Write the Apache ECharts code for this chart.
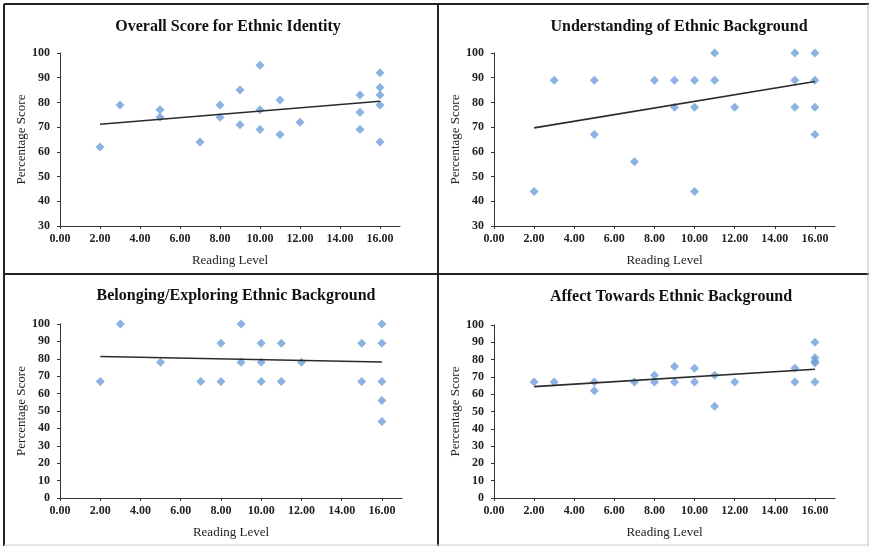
<!DOCTYPE html>
<html>
<head>
<meta charset="utf-8">
<script src="https://cdn.jsdelivr.net/npm/echarts@6/dist/echarts.min.js"></script>
<style>
html,body{margin:0;padding:0;background:#fff;}
#chart{width:869px;height:546px;}
</style>
</head>
<body>
<div id="chart"></div>
<script>
// ---- Data ----
const panelTitles = [
  'Overall Score for Ethnic Identity',
  'Understanding of Ethnic Background',
  'Belonging/Exploring Ethnic Background',
  'Affect Towards Ethnic Background'
];
const xAxisName = 'Reading Level';
const yAxisName = 'Percentage Score';
const xTickValues = [0, 2, 4, 6, 8, 10, 12, 14, 16];

const overallX = [2,3,5,5,7,8,8,9,9,10,10,10,11,11,12,15,15,15,16,16,16,16,16];
const overallY = [62,79,77,74,64,79,74,85,71,95,77,69,81,67,72,83,76,69,92,86,83,79,64];

const understandingX = [2,3,5,5,7,8,9,9,10,10,10,11,11,12,15,15,15,16,16,16,16];
const understandingY = [44,89,89,67,56,89,89,78,89,78,44,100,89,78,100,89,78,100,89,78,67];

const belongingX = [2,3,5,7,8,8,9,9,10,10,10,11,11,12,15,15,16,16,16,16,16];
const belongingY = [67,100,78,67,89,67,100,78,89,78,67,89,67,78,89,67,100,89,67,56,44];

const affectX = [2,3,5,5,7,8,8,9,9,10,10,11,11,12,15,15,16,16,16,16,16];
const affectY = [67,67,67,62,67,71,67,76,67,75,67,71,53,67,75,67,90,81,79,78,67];

// Trend line endpoints (x at 2 and 16)
const trendX = [2, 16];
const overallTrend = [71.2, 80.5];
const understandingTrend = [69.7, 88.5];
const belongingTrend = [81.3, 78.2];
const affectTrend = [64.4, 74.4];

// y-axis ranges per panel
const yMins = [30, 30, 0, 0];
const yMax = 100;

// ---- Build ----
const pairs = (xs, ys) => xs.map((x, i) => [x, ys[i]]);
const scatterSets = [
  pairs(overallX, overallY),
  pairs(understandingX, understandingY),
  pairs(belongingX, belongingY),
  pairs(affectX, affectY)
];
const trendSets = [
  pairs(trendX, overallTrend),
  pairs(trendX, understandingTrend),
  pairs(trendX, belongingTrend),
  pairs(trendX, affectTrend)
];

const FONT = '"Liberation Serif", "Times New Roman", serif';
const grids = [
  {left: 60, top: 53, width: 340, height: 173},
  {left: 494, top: 53, width: 341, height: 173},
  {left: 60, top: 324, width: 342, height: 174},
  {left: 494, top: 325, width: 341, height: 173}
];
const titlePos = [
  {left: 223, top: 14},
  {left: 674, top: 14},
  {left: 231, top: 283},
  {left: 666, top: 284}
];

const option = {
  backgroundColor: '#fff',
  animation: false,
  title: panelTitles.map((t, i) => ({
    text: t,
    left: titlePos[i].left,
    top: titlePos[i].top,
    textAlign: 'center',
    textStyle: {fontFamily: FONT, fontWeight: 'bold', fontSize: 16, color: '#111'}
  })),
  grid: grids.map(g => Object.assign({containLabel: false}, g)),
  xAxis: grids.map((g, i) => ({
    type: 'value',
    gridIndex: i,
    min: 0,
    max: 17,
    interval: 2,
    name: xAxisName,
    nameLocation: 'middle',
    nameGap: 28,
    nameTextStyle: {fontFamily: FONT, fontSize: 13, color: '#222'},
    splitLine: {show: false},
    axisLine: {show: true, onZero: false, lineStyle: {color: '#333', width: 1}},
    axisTick: {show: true, length: 3, customValues: xTickValues, lineStyle: {color: '#333'}},
    axisLabel: {
      customValues: xTickValues,
      margin: 7,
      fontFamily: FONT, fontWeight: 'bold', fontSize: 12, color: '#222',
      formatter: v => v.toFixed(2)
    }
  })),
  yAxis: grids.map((g, i) => ({
    type: 'value',
    gridIndex: i,
    min: yMins[i],
    max: yMax,
    interval: 10,
    name: yAxisName,
    nameLocation: 'middle',
    nameGap: 31,
    nameTextStyle: {fontFamily: FONT, fontSize: 13, color: '#222'},
    splitLine: {show: false},
    axisLine: {show: true, onZero: false, lineStyle: {color: '#333', width: 1}},
    axisTick: {show: true, length: 3, lineStyle: {color: '#333'}},
    axisLabel: {margin: 10, fontFamily: FONT, fontWeight: 'bold', fontSize: 12, color: '#222'}
  })),
  series: [
    ...scatterSets.map((d, i) => ({
      type: 'scatter',
      xAxisIndex: i,
      yAxisIndex: i,
      data: d,
      symbol: 'diamond',
      symbolSize: 9,
      itemStyle: {color: '#6f9fda'},
      z: 3
    })),
    ...trendSets.map((d, i) => ({
      type: 'line',
      xAxisIndex: i,
      yAxisIndex: i,
      data: d,
      showSymbol: false,
      symbol: 'none',
      lineStyle: {color: '#2a2a2a', width: 1.6},
      z: 4
    }))
  ],
  graphic: [
    {type: 'line', shape: {x1: 4, y1: 4, x2: 869, y2: 4}, style: {stroke: '#222', lineWidth: 2}},
    {type: 'line', shape: {x1: 4, y1: 4, x2: 4, y2: 546}, style: {stroke: '#222', lineWidth: 2}},
    {type: 'line', shape: {x1: 438, y1: 4, x2: 438, y2: 546}, style: {stroke: '#222', lineWidth: 2}},
    {type: 'line', shape: {x1: 4, y1: 274, x2: 869, y2: 274}, style: {stroke: '#222', lineWidth: 2}},
    {type: 'line', shape: {x1: 868, y1: 4, x2: 868, y2: 546}, style: {stroke: '#bbb', lineWidth: 1}},
    {type: 'line', shape: {x1: 4, y1: 545, x2: 869, y2: 545}, style: {stroke: '#ccc', lineWidth: 1}}
  ]
};

const chart = echarts.init(document.getElementById('chart'), null, {renderer: 'canvas'});
chart.setOption(option);
</script>
</body>
</html>
